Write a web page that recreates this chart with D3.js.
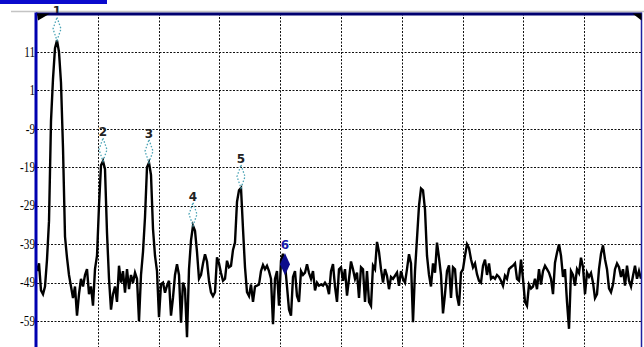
<!DOCTYPE html>
<html>
<head>
<meta charset="utf-8">
<script src="https://cdn.jsdelivr.net/npm/d3@7"></script>
<style>
  html, body { margin: 0; padding: 0; background: #fff; }
  svg { display: block; }
</style>
</head>
<body>
<figure id="spectrum" style="margin:0"></figure>
<script>
// trace level per frequency bin (dBm), 304 bins over 10 divisions
const levels = [
  -46, -44, -51, -52, -50, -43, -33, -7, 4, 12, 14, 11, 3, -14, -37, -42.5, -47, -50, -53, -50,
  -57.6, -52, -48, -50, -47, -45.5, -52, -50, -55, -45.5, -42, -29, -18.5, -17.4, -19.5, -36, -48, -56, -52, -50,
  -54, -44.6, -49, -46, -51.6, -45.5, -50.7, -47, -49, -46.4, -48, -59, -47, -41, -32, -19, -17.8, -21, -35, -42,
  -46, -58, -49.4, -49, -51.6, -49.8, -48.5, -57.6, -52.9, -47, -44.2, -47, -59.4, -49, -50.7, -63.2, -45.5, -38, -34.2, -35.5,
  -41, -48, -47, -44, -41.6, -43.5, -48.5, -51.5, -52.5, -51.5, -42.4, -44, -46.5, -48.5, -48, -43.3, -45, -44.6, -40.5, -38.6,
  -28, -25, -24.4, -35, -45, -51.5, -52.5, -49.5, -54, -50, -49.8, -49.5, -46, -44.4, -45.5, -44.6, -46, -48, -59.8, -48,
  -46, -55, -43.3, -41.5, -44.2, -50, -56, -57.6, -47.5, -46, -52.5, -54, -46, -47, -46.4, -44.2, -46.5, -48, -46, -51,
  -49, -49.8, -49.5, -49.8, -49, -49.8, -52, -46, -44.2, -50, -54, -45.5, -45, -48.5, -45.5, -52.4, -48, -43.5, -45.5, -48,
  -46.4, -53, -45, -45.5, -54, -46, -54, -55, -44.6, -45.5, -38.4, -41, -45.5, -49, -45.5, -47.2, -50.7, -47.5, -48, -47.2,
  -46.4, -49.8, -46, -48, -49, -45.5, -41.6, -44, -59.3, -46, -37.5, -29, -24.5, -25, -30, -42, -47, -50, -44, -46.4,
  -38.6, -42.5, -47, -57, -52, -46, -44.5, -53, -45, -45.5, -52.4, -55, -46.4, -45.5, -42, -39, -40, -42.9, -45, -44,
  -46.8, -48.5, -49, -44.6, -43, -47, -44, -48, -47.5, -48, -47, -47.5, -48.5, -49.8, -47.2, -48, -45.5, -45, -44.6, -44,
  -48, -48.5, -43, -48, -54, -55, -49.5, -50.5, -50, -48, -50.7, -45.5, -49.5, -46, -44.6, -45.5, -46.4, -48, -52, -43.8,
  -41.2, -39, -42, -47.5, -45.5, -54, -61, -46, -47, -49.8, -45.5, -46.5, -42.5, -45, -52, -46.4, -47.5, -46.5, -49, -53,
  -52, -45.5, -41.5, -39.3, -42.9, -45.5, -50.5, -51.5, -49.5, -45.5, -44, -45, -47.5, -45.5, -49.8, -44.6, -48.5, -50, -47.2, -44.6,
  -48, -46, -48
];
const markerBins = [10, 33, 56, 78, 102, 124];
const markerNames = ["1", "2", "3", "4", "5", "6"];
const yTicks = [11, 1, -9, -19, -29, -39, -49, -59];
const refLevel = 21;
const dbPerDiv = 10;
const bins = 304;

const W = 644, H = 347;
const plotLeft = 37, plotRight = 641.5, plotTop = 13.5;

const svg = d3.select("figure#spectrum").append("svg")
  .attr("width", W).attr("height", H);

const x = d3.scaleLinear().domain([0, bins]).range([plotLeft, plotLeft + 608]);
const y = d3.scaleLinear().domain([refLevel, refLevel - 10 * dbPerDiv]).range([plotTop, plotTop + 384.5]);

// window decorations
svg.append("rect").attr("x", 0).attr("y", 0).attr("width", 107).attr("height", 4).attr("fill", "#0a0acd");
svg.append("line").attr("x1", 11).attr("x2", W).attr("y1", 11.5).attr("y2", 11.5)
  .attr("stroke", "#c4c4c4").attr("stroke-width", 1.5);

svg.append("defs").append("clipPath").attr("id", "plot")
  .append("rect").attr("x", plotLeft).attr("y", plotTop).attr("width", plotRight - plotLeft).attr("height", H - plotTop);

// grid
const grid = svg.append("g").attr("stroke", "#111").attr("stroke-width", 1).attr("stroke-dasharray", "2,1.5");
grid.selectAll("line.v").data(d3.range(1, 10)).enter().append("line")
  .attr("x1", d => Math.round(x(d * bins / 10)) + 0.5).attr("x2", d => Math.round(x(d * bins / 10)) + 0.5)
  .attr("y1", plotTop).attr("y2", H);
grid.selectAll("line.h").data(yTicks).enter().append("line")
  .attr("x1", plotLeft).attr("x2", plotRight)
  .attr("y1", d => Math.round(y(d)) + 0.5).attr("y2", d => Math.round(y(d)) + 0.5);

// y labels (narrow serif)
svg.append("g").selectAll("text").data(yTicks).enter().append("text")
  .attr("transform", d => `translate(35,${y(d) + 1.5}) scale(0.8,1)`)
  .attr("text-anchor", "end").attr("dominant-baseline", "middle")
  .attr("font-family", "'Liberation Serif', serif").attr("font-size", "14px").attr("fill", "#000")
  .text(d => d);

// trace
const line = d3.line().x((d, i) => x(i)).y(d => y(d));
svg.append("path").datum(levels)
  .attr("clip-path", "url(#plot)")
  .attr("d", line)
  .attr("fill", "none").attr("stroke", "#000").attr("stroke-width", 2.4).attr("stroke-linejoin", "miter");

// markers
const diamond = (cx, cy, w, h) => `M${cx},${cy - h / 2}L${cx + w / 2},${cy}L${cx},${cy + h / 2}L${cx - w / 2},${cy}Z`;
const markers = markerBins.map((b, i) => ({ name: markerNames[i], bin: b, level: levels[b], active: i === markerBins.length - 1 }));

const mk = svg.append("g");
mk.selectAll("path.off").data(markers.filter(m => !m.active)).enter().append("path")
  .attr("d", m => diamond(x(m.bin), y(m.level) - 11.5, 8, 23))
  .attr("fill", "none").attr("stroke", "#4aa3b5").attr("stroke-width", 1.3).attr("stroke-dasharray", "1.5,1.8");
mk.selectAll("text.off").data(markers.filter(m => !m.active)).enter().append("text")
  .attr("x", m => x(m.bin)).attr("y", m => y(m.level) - 25)
  .attr("text-anchor", "middle")
  .attr("font-family", "'DejaVu Sans', sans-serif").attr("font-size", "12px").attr("font-weight", "bold").attr("fill", "#222")
  .text(m => m.name);

const act = markers.filter(m => m.active);
mk.selectAll("path.on").data(act).enter().append("path")
  .attr("d", m => diamond(x(m.bin), y(m.level), 10, 22))
  .attr("fill", "#0c0c8c");
mk.selectAll("text.on").data(act).enter().append("text")
  .attr("x", m => x(m.bin)).attr("y", m => y(m.level) - 15)
  .attr("text-anchor", "middle")
  .attr("font-family", "'DejaVu Sans', sans-serif").attr("font-size", "12px").attr("font-weight", "bold").attr("fill", "#1a1aa8")
  .text(m => m.name);

// frame
svg.append("line").attr("x1", plotLeft - 1).attr("x2", plotRight).attr("y1", plotTop + 0.5).attr("y2", plotTop + 0.5)
  .attr("stroke", "#000070").attr("stroke-width", 3);
svg.append("line").attr("x1", plotLeft - 1).attr("x2", plotLeft - 1).attr("y1", plotTop - 1).attr("y2", H)
  .attr("stroke", "#0000b0").attr("stroke-width", 3);
svg.append("line").attr("x1", plotRight).attr("x2", plotRight).attr("y1", plotTop - 1).attr("y2", H)
  .attr("stroke", "#2020a0").attr("stroke-width", 1.5);

// corner flags
svg.append("path").attr("d", `M${plotLeft},${plotTop}L${plotLeft + 13},${plotTop}L${plotLeft + 1},${plotTop + 7}Z`).attr("fill", "#000");
svg.append("path").attr("d", `M${plotRight - 9},${plotTop}L${plotRight},${plotTop}L${plotRight},${plotTop + 7}Z`).attr("fill", "#000");
</script>
</body>
</html>
